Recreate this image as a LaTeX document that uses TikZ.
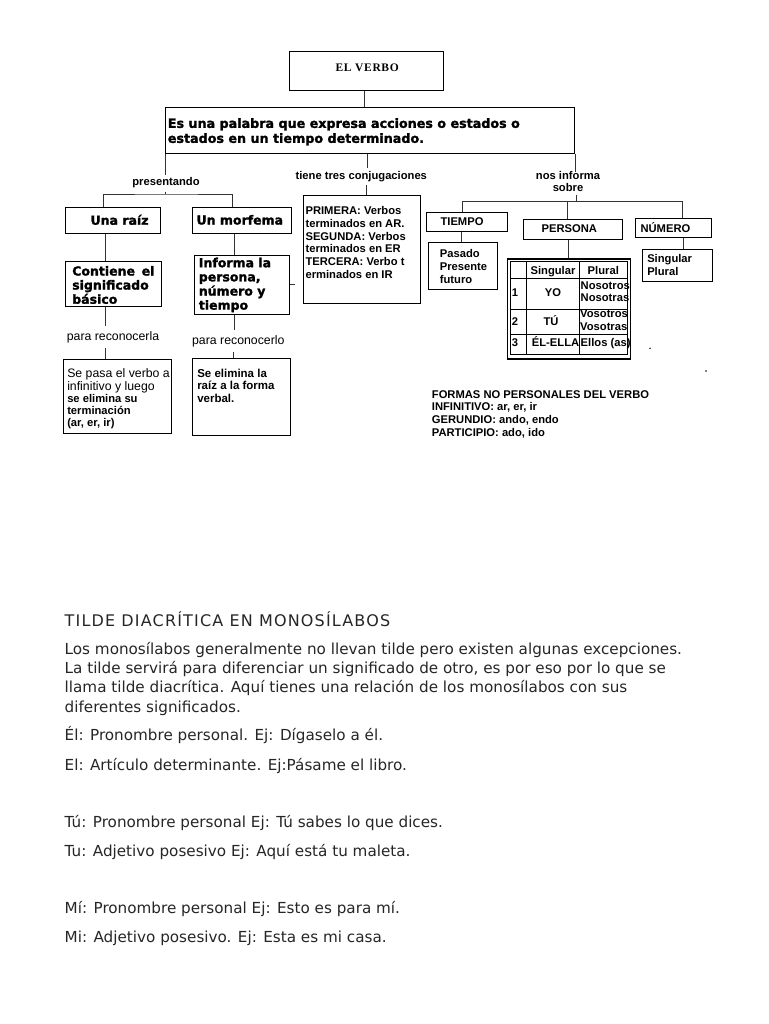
\documentclass[tikz,border=0pt]{standalone}
\usepackage{fontspec}
\setmainfont{Liberation Sans}
\newfontfamily\djs{DejaVu Sans}
\newfontface\hvyf{DejaVu Sans Bold}[FakeBold=1.6]
\newfontfamily\djt{DejaVu Sans}[LetterSpace=7.3]
\newfontfamily\serf{Liberation Serif}[LetterSpace=6]
\usetikzlibrary{calc}
\newcommand\tb[5]{\parbox[c][#2pt][t]{#1pt}{\vspace*{#3pt}\hspace*{#4pt}\begin{tabular}[t]{@{}l@{}}#5\end{tabular}}}
\begin{document}
\begin{tikzpicture}[x=1pt,y=-1pt,
  box/.style={draw, line width=1.1pt, inner sep=0pt, anchor=north west},
  conn/.style={line width=0.9pt, draw=black!80},
  heavy/.style={font=\hvyf\fontsize{12.5}{14}\selectfont},
  small/.style={font=\bfseries\fontsize{11.2}{12.8}\selectfont},
  lbl/.style={anchor=base, inner xsep=0pt, inner ysep=3pt, font=\bfseries\fontsize{11.2}{12.8}\selectfont},
  reco/.style={anchor=base, inner xsep=0pt, inner ysep=5pt, font=\fontsize{12.3}{14}\selectfont},
  cell/.style={anchor=base, inner sep=0pt, font=\bfseries\fontsize{11.2}{12}\selectfont},
  cellw/.style={cell, anchor=base west},
  btxt/.style={anchor=base west, inner sep=0pt, text=black!85, font=\djs\fontsize{15.2}{19.5}\selectfont}]
\fill[white] (0,0) rectangle (768,1024);
\useasboundingbox (0,0) rectangle (768,1024);

% ---------- boxes ----------
\node[box, font=\serf\bfseries\fontsize{11.5}{13.8}\selectfont] (verbo) at (289.3,50.7) {\tb{153.4}{39.3}{10.3}{45.7}{EL VERBO}};
\node[box, font=\hvyf\fontsize{12.7}{15}\selectfont] (def) at (165,106.7) {\tb{409}{46.6}{10.1}{2.3}{Es una palabra que expresa acciones o estados o\\estados en un tiempo determinado.}};

\node[box, heavy] (raiz) at (65,206.7) {\tb{95}{26}{7.5}{25}{Una raíz}};
\node[box, heavy] (morf) at (191.7,206.7) {\tb{99}{26}{7.5}{4.3}{Un morfema}};
\node[box, heavy] (contiene) at (65,261) {\tb{96}{45}{4.2}{6.7}{Contiene\hspace{6.7pt}el\\significado\\básico}};
\node[box, font=\hvyf\fontsize{12.5}{14.1}\selectfont] (informa) at (194.3,255) {\tb{94.7}{59.3}{1.8}{4}{Informa la\\persona,\\número y\\tiempo}};

\node[box, font=\bfseries\fontsize{11.2}{12.1}\selectfont] (sepasa) at (63.3,359.3) {\tb{107.4}{74}{8.9}{3.4}{{\mdseries\fontsize{12.3}{12.1}\selectfont Se pasa el verbo a}\\{\mdseries\fontsize{12.3}{12.1}\selectfont infinitivo y luego}\\se elimina su\\terminación\\(ar, er, ir)}};
\node[box, font=\bfseries\fontsize{11.5}{12.5}\selectfont] (sepasa2) at (191.7,358.3) {\tb{98.3}{76.7}{9.65}{5}{Se elimina la\\raíz a la forma\\verbal.}};

\node[box, small] (primera) at (303.3,195) {\tb{116.7}{108.3}{10}{1.7}{PRIMERA: Verbos\\terminados en AR.\\SEGUNDA: Verbos\\terminados en ER\\TERCERA: Verbo t\\erminados en IR}};

\node[box, small] (tiempo) at (425.7,211.7) {\tb{81}{19}{4.3}{14.3}{TIEMPO}};
\node[box, font=\bfseries\fontsize{11.2}{13}\selectfont] (pasado) at (427.7,242.3) {\tb{69.6}{47}{5.9}{11.6}{Pasado\\Presente\\futuro}};
\node[box, small] (persona) at (522.7,219.3) {\tb{99.3}{20}{4}{18.3}{PERSONA}};
\node[box, small] (numero) at (635,218.3) {\tb{75.7}{19}{3.7}{5}{NÚMERO}};
\node[box, font=\bfseries\fontsize{11.2}{12.7}\selectfont] (singpl) at (641.7,249.3) {\tb{70}{31.4}{4.1}{5}{Singular\\Plural}};

% ---------- table ----------
\node[box, line width=1.2pt, minimum width=123.3pt, minimum height=100pt] (tabla) at (506.7,258.3) {};
\draw[line width=1pt] (510,261.7) rectangle (627.3,354);
\draw[line width=1pt] (526.7,261.7) -- (526.7,354);
\draw[line width=1pt] (579.3,261.7) -- (579.3,354);
\draw[line width=1pt] (510,278.3) -- (627.3,278.3);
\draw[line width=1pt] (510,309) -- (627.3,309);
\draw[line width=1pt] (510,334) -- (627.3,334);
\node[cell] (hs) at (553,274.3) {Singular};
\node[cell] (hp) at (603.3,274.3) {Plural};
\node[cellw] (n1) at (511.7,296.7) {1};
\node[cell] (yo) at (553,296.7) {YO};
\node[cellw] (nos1) at (580.5,289.3) {Nosotros};
\node[cellw] (nos2) at (580.5,301.7) {Nosotras};
\node[cellw] (n2) at (511.7,325) {2};
\node[cell] (tu) at (551,325) {TÚ};
\node[cellw] (vos1) at (580,317.7) {Vosotros};
\node[cellw] (vos2) at (580,330.7) {Vosotras};
\node[cellw] (n3) at (511.7,346.7) {3};
\node[cellw] (el) at (531.7,346.7) {ÉL-ELLA};
\node[cellw] (ellos) at (580.5,346.7) {Ellos (as)};

% ---------- labels ----------
\node[lbl] (pres) at (166,186) {presentando};
\node[lbl] (conj) at (361.3,179.3) {tiene tres conjugaciones};
\node[anchor=base, inner sep=0pt, font=\bfseries\fontsize{11.2}{10.7}\selectfont] (inf) at (568,180) {\begin{tabular}[t]{@{}c@{}}nos informa\\sobre\end{tabular}};
\node[reco] (reco1) at (113,340) {para reconocerla};
\node[reco] (reco2) at (238.3,344) {para reconocerlo};

\node[anchor=base west, inner sep=0pt, font=\bfseries\fontsize{11.2}{12.6}\selectfont] (formas) at (431.7,398.3) {\begin{tabular}[t]{@{}l@{}}FORMAS NO PERSONALES DEL VERBO\\INFINITIVO: ar, er, ir\\GERUNDIO: ando, endo\\PARTICIPIO: ado, ido\end{tabular}};

% ---------- connectors ----------
\coordinate (jL) at (165,194);
\coordinate (jR) at (576.7,201.7);
\coordinate (stub) at (295,284.3);
\coordinate (xV) at (364,0);
\coordinate (xRz) at (103,0);
\coordinate (xMf) at (232,0);
\coordinate (xRC) at (105,0);
\coordinate (xMI) at (234,0);
\coordinate (xIR) at (233,0);
\coordinate (xCj) at (367,0);
\coordinate (xCj2) at (366,0);
\coordinate (xT) at (462.7,0);
\coordinate (xP) at (567.3,0);
\coordinate (xN) at (682.7,0);
\coordinate (xTP) at (461.7,0);
\coordinate (xPT) at (568.3,0);
\coordinate (xNS) at (683.3,0);

\draw[conn] (verbo.south -| xV) -- (def.north -| xV);
\draw[conn] (def.south west) -- (def.south west |- pres.north);
\draw[conn] (jL |- pres.south) -- (jL);
\draw[conn] (raiz.north -| xRz) |- (jL) -| (morf.north -| xMf);
\draw[conn] (raiz.south -| xRC) -- (contiene.north -| xRC);
\draw[conn] (contiene.south -| xRC) -- (reco1.north -| xRC);
\draw[conn] (reco1.south -| xRC) -- (sepasa.north -| xRC);
\draw[conn] (morf.south -| xMI) -- (informa.north -| xMI);
\draw[conn] (informa.south -| xMI) -- (reco2.north -| xMI);
\draw[conn] (reco2.south -| xIR) -- (sepasa2.north -| xIR);
\draw[conn] (informa.east |- stub) -- (stub);
\draw[conn] (def.south -| xCj) -- (conj.north -| xCj);
\draw[conn] (conj.south -| xCj2) -- (primera.north -| xCj2);
\draw[conn] (def.south east) -- (def.south east |- inf.north);
\draw[conn] (jR |- inf.south) -- (jR);
\draw[conn] (tiempo.north -| xT) |- (jR) -| (numero.north -| xN);
\draw[conn] (jR -| xP) -- (persona.north -| xP);
\draw[conn] (tiempo.south -| xTP) -- (pasado.north -| xTP);
\draw[conn] (persona.south -| xPT) -- (tabla.north -| xPT);
\draw[conn] (numero.south -| xNS) -- (singpl.north -| xNS);

\fill (650,348.3) circle (0.8);
\fill (706,371) circle (0.8);

% ---------- text below ----------
\node[btxt, font=\djt\fontsize{16}{19}\selectfont] (t0) at (64.5,626.7) {TILDE DIACRÍTICA EN MONOSÍLABOS};
\node[btxt] (t1) at (64.5,654) {Los monosílabos generalmente no llevan tilde pero existen algunas excepciones.};
\node[btxt] (t2) at (64.5,673.3) {La tilde servirá para diferenciar un significado de otro, es por eso por lo que se};
\node[btxt] (t3) at (64.5,692.7) {llama tilde diacrítica. Aquí tienes una relación de los monosílabos con sus};
\node[btxt] (t4) at (64.5,712.7) {diferentes significados.};
\node[btxt] (t5) at (64.5,740.7) {Él: Pronombre personal. Ej: Dígaselo a él.};
\node[btxt] (t6) at (64.5,770) {El: Artículo determinante. Ej:Pásame el libro.};
\node[btxt] (t7) at (64.5,827.3) {Tú: Pronombre personal Ej: Tú sabes lo que dices.};
\node[btxt] (t8) at (64.5,856.7) {Tu: Adjetivo posesivo Ej: Aquí está tu maleta.};
\node[btxt] (t9) at (64.5,913.3) {Mí: Pronombre personal Ej: Esto es para mí.};
\node[btxt] (t10) at (64.5,942.7) {Mi: Adjetivo posesivo. Ej: Esta es mi casa.};
\end{tikzpicture}
\end{document}
